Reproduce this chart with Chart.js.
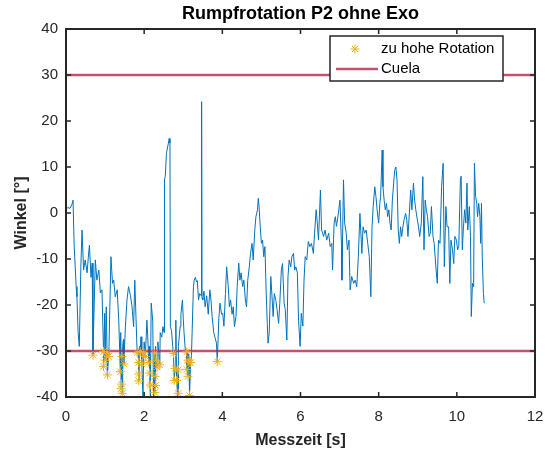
<!DOCTYPE html>
<html>
<head>
<meta charset="utf-8">
<script src="https://cdn.jsdelivr.net/npm/chart.js@4.4.1/dist/chart.umd.min.js"></script>
<style>
  html, body { margin: 0; padding: 0; background: #ffffff; }
  #c { display: block; }
</style>
</head>
<body>
<canvas id="c" width="545" height="454"></canvas>
<script>
// Rumpfrotation (Winkel in Grad) über der Messzeit in Sekunden
const zeit = [
  0.00, 0.05, 0.10, 0.15, 0.18, 0.21, 0.26, 0.28, 0.31, 0.34, 0.38, 0.41, 0.45, 0.49, 0.54, 0.58, 0.60, 0.64, 0.67, 0.75,
  0.79, 0.84, 0.88, 0.92, 0.99, 1.03, 1.10, 1.15, 1.19, 1.22, 1.26, 1.31, 1.35, 1.40, 1.45, 1.47,
  1.52, 1.56, 1.60, 1.65, 1.69, 1.73, 1.76, 1.79, 1.84, 1.88, 1.92, 1.97, 2.00, 2.07, 2.09, 2.13, 2.16,
  2.18, 2.22, 2.24, 2.29, 2.35, 2.41, 2.45, 2.48, 2.51, 2.52, 2.54, 2.57, 2.62, 2.64, 2.66, 2.67, 2.70,
  2.73, 2.81, 2.86, 2.88, 2.92, 2.94, 2.98, 3.00, 3.02, 3.05, 3.11, 3.14, 3.16, 3.21, 3.26, 3.28,
  3.31, 3.34, 3.36, 3.39, 3.42, 3.46, 3.47, 3.48, 3.50, 3.53, 3.56, 3.60, 3.64, 3.68, 3.71, 3.74, 3.78,
  3.81, 3.85, 3.91, 3.94, 3.98, 4.01, 4.04, 4.08, 4.11, 4.15, 4.18, 4.21, 4.25, 4.28, 4.31, 4.35,
  4.38, 4.42, 4.45, 4.48, 4.52, 4.55, 4.59, 4.62, 4.65, 4.69, 4.72, 4.76, 4.79, 4.83, 4.86, 4.90,
  4.92, 4.94, 4.97, 5.00, 5.03, 5.06, 5.09, 5.12, 5.15, 5.17, 5.20, 5.24, 5.27, 5.30, 5.33, 5.37,
  5.40, 5.44, 5.47, 5.51, 5.54, 5.58, 5.61, 5.65, 5.68, 5.71, 5.75, 5.78, 5.82, 5.85, 5.88, 5.92,
  5.95, 5.99, 6.02, 6.06, 6.09, 6.12, 6.16, 6.20, 6.24, 6.28, 6.33, 6.36, 6.40, 6.43, 6.46, 6.51,
  6.54, 6.59, 6.63, 6.67, 6.72, 6.76, 6.80, 6.82, 6.86, 6.89, 6.92, 6.97, 7.01, 7.05, 7.06, 7.10,
  7.13, 7.17, 7.20, 7.24, 7.27, 7.31, 7.36, 7.40, 7.44, 7.48, 7.52, 7.57, 7.60, 7.64, 7.68, 7.72,
  7.76, 7.80, 7.83, 7.86, 7.90, 7.93, 7.96, 8.00, 8.03, 8.05, 8.09, 8.11, 8.14, 8.17, 8.20, 8.23,
  8.26, 8.29, 8.32, 8.35, 8.41, 8.44, 8.47, 8.50, 8.53, 8.56, 8.59, 8.62, 8.65, 8.69, 8.72, 8.75,
  8.82, 8.85, 8.89, 8.92, 8.95, 8.99, 9.02, 9.05, 9.09, 9.13, 9.16, 9.19, 9.22, 9.25, 9.29, 9.32,
  9.35, 9.39, 9.42, 9.47, 9.50, 9.53, 9.57, 9.61, 9.65, 9.68, 9.72, 9.75, 9.79, 9.82, 9.85, 9.89,
  9.92, 9.95, 9.99, 10.02, 10.05, 10.09, 10.11, 10.14, 10.17, 10.20, 10.23, 10.26, 10.28, 10.32, 10.35, 10.37,
  10.40, 10.43, 10.45, 10.48, 10.51, 10.53, 10.56, 10.59, 10.61, 10.63, 10.65, 10.68, 10.70
];
const winkel = [
  0.8, 1.2, 1.0, 1.8, 2.8, -7.3, -16.0, -18.2, -26.0, -29.0, -11.7, -3.7, -12.4, -10.2, -13.0, -8.7, -7.0, -14.0, -10.9, -10.2,
  -14.6, -12.4, -17.4, -16.7, -21.8, -20.4, -29.0, -9.5, -15.3, -14.6, -18.2, -16.7, -23.3, -26.0, -29.0, -27.5,
  -24.7, -18.9, -16.0, -18.0, -20.4, -24.7, -14.6, -22.5, -29.5, -29.0, -26.9, -40.0, -28.0, -23.3, -26.7, -29.0, -40.0,
  -19.6, -23.5, -40.0, -29.0, -28.0, -26.0, -27.0, -24.7, -26.0, 7.2, 8.0, 13.0, 15.2, 16.2, 15.2, -24.7, -25.6,
  -29.0, -23.3, -40.0, -29.0, -24.7, -22.0, -18.9, -23.0, -26.0, -29.5, -30.5, -30.8, -40.0, -31.0, -16.0, -14.6,
  -14.0, -15.0, -14.7, -18.9, -17.5, -18.0, 24.2, -18.5, -18.9, -17.0, -20.4, -18.0, -22.0, -16.7, -18.9, -22.6, -26.0,
  -27.0, -28.3, -23.0, -19.6, -22.0, -21.8, -24.6, -17.5, -11.7, -15.8, -20.4, -18.9, -22.0, -20.4, -24.7, -22.5,
  -16.0, -10.9, -14.6, -13.0, -16.0, -14.6, -18.9, -20.4, -14.6, -11.7, -8.8, -6.6, -10.2, -3.7, -0.8, 0.7,
  3.2, 1.3, -3.0, -6.6, -5.9, -9.5, -7.3, -16.7, -24.0, -28.3, -26.0, -13.8, -18.0, -22.5, -17.5, -19.0,
  -21.0, -24.0, -19.6, -12.4, -11.0, -19.6, -21.0, -27.6, -13.8, -10.2, -11.7, -9.5, -8.8, -12.4, -11.7, -13.0,
  -23.3, -29.0, -21.8, -24.6, -14.6, -9.5, -10.2, -6.2, -7.3, -6.6, -8.8, -4.4, 0.7, -2.2, -5.9, 5.0,
  -3.7, -5.1, -3.7, -5.9, -4.4, -7.3, -6.6, -12.4, -2.2, -0.8, -2.9, 0.0, 2.8, -7.3, -14.6, 7.2,
  -2.2, -4.4, -8.0, -5.9, -16.7, -13.8, -15.3, -14.6, -16.0, -9.5, -0.1, -8.8, -3.0, -4.4, -3.7, -6.6,
  -9.5, -18.2, -3.0, 1.4, 5.7, 3.6, 0.7, -2.2, 2.1, 3.6, 13.7, 5.7, 2.8, 0.7, 2.1, -0.8,
  0.7, -2.2, -3.7, 2.8, 9.3, 10.0, 7.1, -3.7, -6.6, -3.0, -5.1, -3.0, -1.5, -0.1, -1.5, -5.1,
  5.0, 0.7, 6.5, 2.8, 0.7, -1.5, -3.0, -5.1, -2.2, 7.9, -8.0, 2.8, 0.7, -0.8, -5.1, -4.4,
  1.4, -5.1, -6.6, -12.4, -15.3, -5.9, -6.6, 5.7, 10.8, -11.7, 1.4, -3.0, -3.0, -15.3, -5.9, -8.0,
  -11.0, -5.1, -5.9, -8.0, -7.3, 7.2, 8.0, -8.0, -3.0, 0.7, -2.2, 6.5, -3.7, 1.4, -5.1, -22.5,
  -15.3, -16.0, 10.8, 3.6, 2.1, -0.8, 2.1, -0.8, -6.6, 2.1, -9.5, -17.5, -19.6
];

// Messpunkte mit zu hoher Rotation (unterhalb von -30°)
const sternZeit = [
  0.69, 0.96, 0.96, 1.00, 1.05, 1.09, 1.06,
  1.39, 1.43, 1.42, 1.41, 1.44, 1.48,
  1.82, 1.86, 1.90, 1.94, 1.99, 2.03, 1.86, 1.86,
  2.12, 2.14, 2.16,
  2.27, 2.30, 2.33, 2.28, 2.29, 2.27, 2.40,
  2.75, 2.79, 2.87, 2.77, 2.83, 2.87,
  3.09, 3.12, 3.15, 3.19, 3.09, 3.12, 3.16,
  3.87
];
const sternWinkel = [
  -30.9, -30.1, -33.4, -32.0, -30.5, -31.2, -35.2,
  -34.5, -31.2, -37.2, -38.2, -39.2, -32.8,
  -30.4, -32.5, -30.1, -32.8, -30.4, -31.2, -35.0, -36.5,
  -32.5, -34.8, -37.4,
  -30.5, -32.0, -33.5, -35.5, -37.5, -39.0, -33.0,
  -30.5, -33.8, -34.1, -36.4, -36.4, -39.2,
  -30.2, -32.0, -32.5, -32.5, -34.0, -35.5, -39.7,
  -32.3
];

// Grenzwerte nach Cuela
const cuelaGrenzen = [30, -30];
const xTicks = [0, 2, 4, 6, 8, 10, 12];
const yTicks = [-40, -30, -20, -10, 0, 10, 20, 30, 40];

const FONT = '"Liberation Sans", Arial, Helvetica, sans-serif';
const AXIS = '#262626';

// Signal inkl. der markierten Punkte, nach Zeit sortiert
const signal = zeit.map((t, i) => ({ x: t, y: winkel[i] }))
  .concat(sternZeit.map((t, i) => ({ x: t, y: sternWinkel[i] })))
  .sort((a, b) => a.x - b.x);
const sterne = sternZeit.map((t, i) => ({ x: t, y: sternWinkel[i] }));
const xMin = xTicks[0], xMax = xTicks[xTicks.length - 1];

const datasets = [
  {
    label: 'zu hohe Rotation', type: 'scatter', data: sterne, order: 0,
    pointStyle: 'star', radius: 4.5, borderWidth: 1,
    borderColor: '#EDB120', backgroundColor: '#EDB120', showLine: false
  }
];
cuelaGrenzen.forEach((g, i) => {
  datasets.push({
    label: i === 0 ? 'Cuela' : 'Cuela ' + i, type: 'line', order: 1,
    data: [{ x: xMin, y: g }, { x: xMax, y: g }],
    borderColor: 'rgba(178, 40, 74, 0.8)', borderWidth: 2.5, pointRadius: 0, fill: false
  });
});
datasets.push({
  label: 'Winkel', type: 'line', data: signal, order: 2,
  borderColor: '#0072BD', borderWidth: 1, pointRadius: 0, fill: false, tension: 0
});

const rahmenPlugin = {
  id: 'rahmen',
  afterDatasetsDraw(chart) {
    const { ctx, chartArea: a, scales } = chart;
    ctx.save();
    // inward ticks on all four sides
    ctx.strokeStyle = AXIS;
    ctx.lineWidth = 1.5;
    const L = 5;
    ctx.beginPath();
    xTicks.forEach(v => {
      const px = scales.x.getPixelForValue(v);
      ctx.moveTo(px, a.bottom); ctx.lineTo(px, a.bottom - L);
      ctx.moveTo(px, a.top); ctx.lineTo(px, a.top + L);
    });
    yTicks.forEach(v => {
      const py = scales.y.getPixelForValue(v);
      ctx.moveTo(a.left, py); ctx.lineTo(a.left + L, py);
      ctx.moveTo(a.right, py); ctx.lineTo(a.right - L, py);
    });
    ctx.stroke();
    // axes box
    ctx.lineWidth = 2;
    ctx.strokeRect(a.left, a.top, a.right - a.left, a.bottom - a.top);

    // title
    ctx.fillStyle = '#000';
    ctx.font = 'bold 18px ' + FONT;
    ctx.textAlign = 'center';
    ctx.textBaseline = 'middle';
    ctx.fillText('Rumpfrotation P2 ohne Exo', (a.left + a.right) / 2, 14);

    // legend
    const bx = 330, by = 36, bw = 173, bh = 45;
    ctx.fillStyle = '#fff';
    ctx.fillRect(bx, by, bw, bh);
    ctx.lineWidth = 1.5;
    ctx.strokeStyle = AXIS;
    ctx.strokeRect(bx, by, bw, bh);
    const st = chart.data.datasets[0];
    ctx.strokeStyle = st.borderColor;
    ctx.fillStyle = st.backgroundColor;
    ctx.lineWidth = 1;
    Chart.helpers.drawPoint(ctx, { pointStyle: 'star', radius: st.radius, rotation: 0, borderWidth: 1 }, 355, 49);
    const cu = chart.data.datasets[1];
    ctx.strokeStyle = cu.borderColor;
    ctx.lineWidth = cu.borderWidth;
    ctx.beginPath(); ctx.moveTo(336, 69); ctx.lineTo(378, 69); ctx.stroke();
    ctx.fillStyle = '#000';
    ctx.font = '15px ' + FONT;
    ctx.textAlign = 'left';
    ctx.fillText(st.label, 381, 49);
    ctx.fillText(cu.label, 381, 69);
    ctx.restore();
  }
};

new Chart(document.getElementById('c'), {
  type: 'line',
  data: { datasets },
  options: {
    responsive: false,
    animation: false,
    devicePixelRatio: 1,
    layout: { padding: { top: 29, right: 10, left: 0, bottom: 0 } },
    plugins: { legend: { display: false }, tooltip: { enabled: false }, title: { display: false } },
    scales: {
      x: {
        type: 'linear', min: xMin, max: xMax,
        afterBuildTicks: s => { s.ticks = xTicks.map(v => ({ value: v })); },
        afterFit: s => { s.height = 57; s.paddingLeft = 0; s.paddingRight = 0; },
        grid: { display: false, drawTicks: false },
        border: { display: false },
        ticks: { color: AXIS, font: { family: FONT, size: 15 }, padding: 11, maxRotation: 0 },
        title: { display: true, text: 'Messzeit [s]', color: AXIS, font: { family: FONT, size: 16, weight: 'bold' }, padding: { top: 0, bottom: 4 } }
      },
      y: {
        type: 'linear', min: yTicks[0], max: yTicks[yTicks.length - 1],
        afterBuildTicks: s => { s.ticks = yTicks.map(v => ({ value: v })); },
        afterFit: s => { s.width = 66; s.paddingTop = 0; s.paddingBottom = 0; },
        grid: { display: false, drawTicks: false },
        border: { display: false },
        ticks: { color: AXIS, font: { family: FONT, size: 15 }, padding: 8 },
        title: { display: true, text: 'Winkel [°]', color: AXIS, font: { family: FONT, size: 16, weight: 'bold' }, padding: { top: 12, bottom: 0 } }
      }
    }
  },
  plugins: [rahmenPlugin]
});
</script>
</body>
</html>
